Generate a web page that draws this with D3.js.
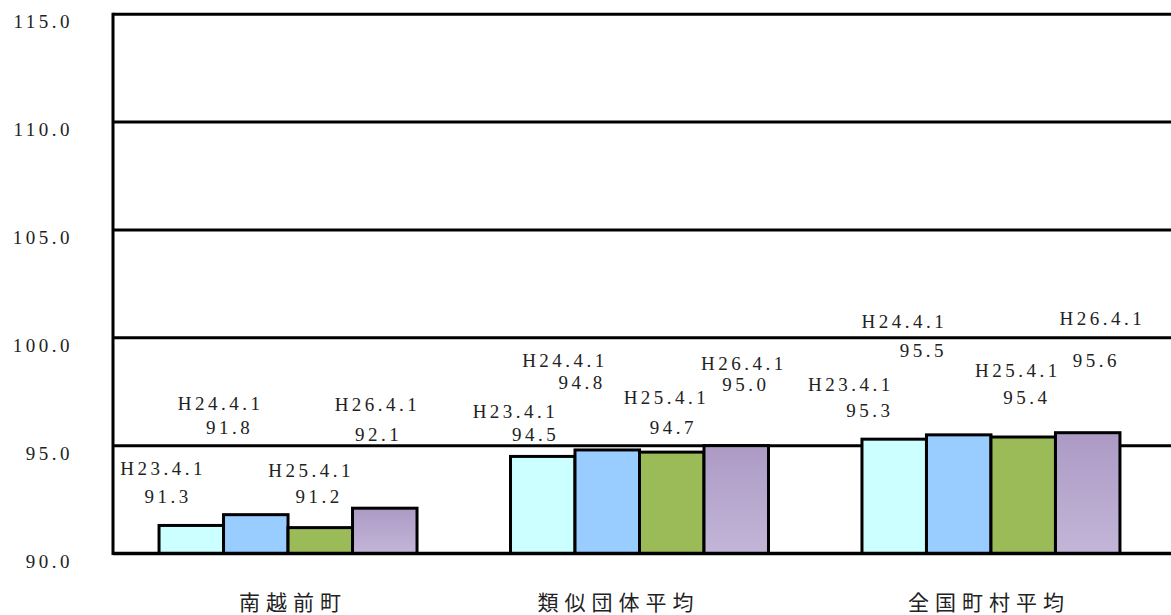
<!DOCTYPE html>
<html>
<head>
<meta charset="utf-8">
<script src="https://cdn.jsdelivr.net/npm/d3@7"></script>
<style>
  html, body { margin: 0; padding: 0; background: #fff; }
  svg { display: block; }
</style>
</head>
<body>
<svg id="chart" width="1171" height="615"></svg>
<script>
// ---------------- data ----------------
const categories = ["南越前町", "類似団体平均", "全国町村平均"];
const seriesNames = ["H23.4.1", "H24.4.1", "H25.4.1", "H26.4.1"];
const valuesH23 = [91.3, 94.5, 95.3];
const valuesH24 = [91.8, 94.8, 95.5];
const valuesH25 = [91.2, 94.7, 95.4];
const valuesH26 = [92.1, 95.0, 95.6];
const yTicks = [90, 95, 100, 105, 110, 115];

// ---------------- styling / layout ----------------
const seriesValues = [valuesH23, valuesH24, valuesH25, valuesH26];
const fills = ["#CCFFFF", "#99CCFF", "#9BBB59", "url(#purpleGrad)"];
// label nudges [dx, dy] relative to bar centre / bar top  (series x category)
const nameNudge = [
  [[-30, -57], [-29, -45], [-45, -55]],
  [[-37, -111], [-44, -89], [-56, -113]],
  [[-11, -57], [-7, -55], [-7, -67]],
  [[-9, -104], [6, -82], [13, -114]]
];
const valueNudge = [
  [[-25, -29], [-9, -22], [-26, -29]],
  [[-28, -87], [-27, -67], [-37, -84]],
  [[-3, -31], [0, -25], [2, -40]],
  [[-8, -74], [8, -61], [7, -72]]
];
const catNudge = [2, -24, -5];

const svg = d3.select("#chart");
const plotLeft = 113, plotRight = 1171, plotTop = 14.2, plotBottom = 553.5;

const defs = svg.append("defs");
const grad = defs.append("linearGradient").attr("id", "purpleGrad")
  .attr("x1", 0).attr("y1", 0).attr("x2", 0).attr("y2", 1);
grad.append("stop").attr("offset", "0%").attr("stop-color", "#AC9AC4");
grad.append("stop").attr("offset", "100%").attr("stop-color", "#C3B5D8");

const y = d3.scaleLinear().domain([90, 115]).range([plotBottom, plotTop]);
const x0 = d3.scaleBand().domain(categories).range([plotLeft, 1166])
  .paddingInner(0.266).paddingOuter(0.131);
const x1 = d3.scaleBand().domain(seriesNames).range([0, x0.bandwidth()]).padding(0);

const serif = "'Liberation Serif', 'DejaVu Serif', serif";

// gridlines (not the baseline)
svg.append("g").selectAll("line").data(yTicks.filter(t => t > 90)).join("line")
  .attr("x1", plotLeft).attr("x2", plotRight)
  .attr("y1", d => y(d)).attr("y2", d => y(d))
  .attr("stroke", "#000").attr("stroke-width", 3);

// y tick labels
svg.append("g").selectAll("text").data(yTicks).join("text")
  .attr("x", 73)
  .attr("y", d => y(d) + 7.5)
  .attr("text-anchor", "end")
  .attr("dominant-baseline", "central")
  .attr("font-family", serif)
  .attr("font-size", 19)
  .attr("letter-spacing", 3.5)
  .attr("fill", "#222")
  .text(d => d3.format(".1f")(d));

// bars
const rows = [];
seriesNames.forEach((s, si) => {
  categories.forEach((c, ci) => {
    rows.push({ s, si, c, ci, v: seriesValues[si][ci] });
  });
});

svg.append("g").selectAll("rect").data(rows).join("rect")
  .attr("x", d => x0(d.c) + x1(d.s))
  .attr("y", d => y(d.v))
  .attr("width", x1.bandwidth())
  .attr("height", d => y(90) - y(d.v))
  .attr("fill", d => fills[d.si])
  .attr("stroke", "#000")
  .attr("stroke-width", 3);

// axes lines
svg.append("line").attr("x1", plotLeft).attr("x2", plotLeft).attr("y1", plotTop - 1.5).attr("y2", plotBottom + 1.5)
  .attr("stroke", "#000").attr("stroke-width", 3);
svg.append("line").attr("x1", plotLeft).attr("x2", plotRight).attr("y1", plotBottom).attr("y2", plotBottom)
  .attr("stroke", "#000").attr("stroke-width", 3.5);

// bar labels
const lab = svg.append("g")
  .attr("font-family", serif)
  .attr("font-size", 19)
  .attr("letter-spacing", 3.5)
  .attr("fill", "#222")
  .attr("text-anchor", "middle")
  .attr("dominant-baseline", "central");

rows.forEach(d => {
  const cx = x0(d.c) + x1(d.s) + x1.bandwidth() / 2 + 1.75;
  const ty = y(d.v);
  const n = nameNudge[d.si][d.ci], v = valueNudge[d.si][d.ci];
  lab.append("text").attr("x", cx + n[0]).attr("y", ty + n[1]).text(d.s);
  lab.append("text").attr("x", cx + v[0]).attr("y", ty + v[1]).text(d3.format(".1f")(d.v));
});

// category labels
svg.append("g").selectAll("text").data(categories).join("text")
  .attr("x", (d, i) => x0(d) + x0.bandwidth() / 2 + catNudge[i] + 3)
  .attr("y", 601)
  .attr("text-anchor", "middle")
  .attr("dominant-baseline", "central")
  .attr("font-family", "'Noto Sans CJK JP', 'Noto Sans CJK SC', sans-serif")
  .attr("font-size", 21)
  .attr("letter-spacing", 6)
  .attr("fill", "#222")
  .text(d => d);
</script>
</body>
</html>
